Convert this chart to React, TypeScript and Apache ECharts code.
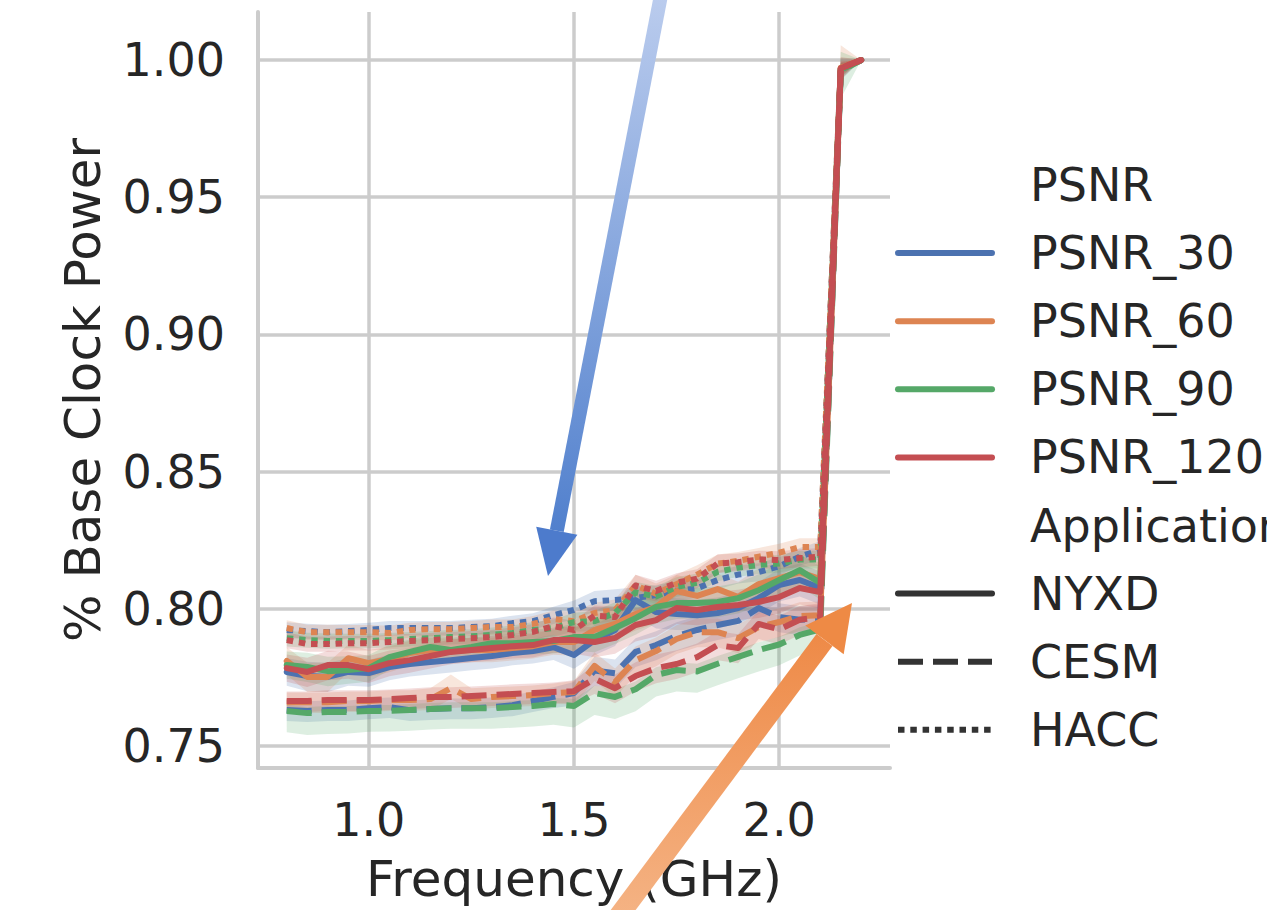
import React, { useEffect, useRef } from 'react';
import * as echarts from 'echarts';

const FONT = 'DejaVu Sans';
const TEXT = '#262626';
const GRID = '#cccccc';

const freqs = [0.80, 0.85, 0.90, 0.95, 1.00, 1.05, 1.10, 1.15, 1.20, 1.25, 1.30, 1.35, 1.40, 1.45, 1.50, 1.55, 1.60, 1.65, 1.70, 1.75, 1.80, 1.85, 1.90, 1.95, 2.00, 2.05, 2.10, 2.15, 2.20];

const psnrLevels = ['PSNR_30', 'PSNR_60', 'PSNR_90', 'PSNR_120'];
const applications = ['NYXD', 'CESM', 'HACC'];
const psnrColors = ['#4C72B0', '#DD8452', '#55A868', '#C44E52'];

// NYXD (solid)
const nyxd30 = [0.7770, 0.7755, 0.7752, 0.7770, 0.7766, 0.7788, 0.7799, 0.7806, 0.7813, 0.7821, 0.7828, 0.7839, 0.7846, 0.7860, 0.7832, 0.7886, 0.7923, 0.8032, 0.7988, 0.7981, 0.7977, 0.7985, 0.8003, 0.8039, 0.8087, 0.8105, 0.8076, 0.9968, 1.0000];
const nyxd60 = [0.7810, 0.7752, 0.7752, 0.7820, 0.7802, 0.7817, 0.7839, 0.7850, 0.7846, 0.7850, 0.7850, 0.7857, 0.7864, 0.7879, 0.7879, 0.7923, 0.7945, 0.7981, 0.8007, 0.8065, 0.8047, 0.8072, 0.8043, 0.8090, 0.8112, 0.8134, 0.8108, 0.9972, 1.0000];
const nyxd90 = [0.7795, 0.7788, 0.7773, 0.7777, 0.7784, 0.7824, 0.7843, 0.7861, 0.7850, 0.7861, 0.7875, 0.7875, 0.7879, 0.7883, 0.7897, 0.7897, 0.7930, 0.7966, 0.8007, 0.8021, 0.8021, 0.8025, 0.8039, 0.8068, 0.8105, 0.8141, 0.8094, 0.9965, 1.0000];
const nyxd120 = [0.7784, 0.7770, 0.7795, 0.7795, 0.7780, 0.7802, 0.7813, 0.7828, 0.7843, 0.7850, 0.7857, 0.7864, 0.7868, 0.7886, 0.7886, 0.7879, 0.7894, 0.7941, 0.7959, 0.8003, 0.7996, 0.8007, 0.8014, 0.8025, 0.8043, 0.8076, 0.8061, 0.9970, 1.0000];

// CESM (dashed)
const cesm30 = [0.7631, 0.7628, 0.7631, 0.7631, 0.7638, 0.7642, 0.7631, 0.7635, 0.7638, 0.7638, 0.7642, 0.7649, 0.7664, 0.7679, 0.7693, 0.7775, 0.7765, 0.7843, 0.7868, 0.7901, 0.7923, 0.7941, 0.7956, 0.8003, 0.7970, 0.7960, 0.7963, 0.9966, 1.0000];
const cesm60 = [0.7660, 0.7660, 0.7660, 0.7664, 0.7664, 0.7668, 0.7668, 0.7671, 0.7711, 0.7671, 0.7679, 0.7682, 0.7686, 0.7693, 0.7697, 0.7792, 0.7733, 0.7813, 0.7846, 0.7890, 0.7915, 0.7915, 0.7893, 0.7934, 0.7952, 0.7974, 0.7977, 0.9969, 1.0000];
const cesm90 = [0.7628, 0.7620, 0.7624, 0.7624, 0.7628, 0.7628, 0.7631, 0.7635, 0.7638, 0.7638, 0.7638, 0.7642, 0.7646, 0.7653, 0.7646, 0.7693, 0.7679, 0.7707, 0.7759, 0.7777, 0.7772, 0.7800, 0.7825, 0.7850, 0.7870, 0.7905, 0.7925, 0.9960, 1.0000];
const cesm120 = [0.7664, 0.7664, 0.7668, 0.7668, 0.7668, 0.7671, 0.7675, 0.7679, 0.7679, 0.7682, 0.7686, 0.7690, 0.7693, 0.7697, 0.7700, 0.7745, 0.7711, 0.7755, 0.7784, 0.7799, 0.7824, 0.7868, 0.7857, 0.7945, 0.7925, 0.7960, 0.7970, 0.9971, 1.0000];

// HACC (dotted)
const hacc30 = [0.7923, 0.7919, 0.7915, 0.7919, 0.7923, 0.7930, 0.7930, 0.7930, 0.7930, 0.7934, 0.7937, 0.7948, 0.7955, 0.7977, 0.7996, 0.8028, 0.8032, 0.8040, 0.8050, 0.8065, 0.8075, 0.8105, 0.8125, 0.8134, 0.8155, 0.8190, 0.8214, 0.9968, 1.0000];
const hacc60 = [0.7930, 0.7915, 0.7915, 0.7915, 0.7915, 0.7912, 0.7923, 0.7926, 0.7926, 0.7930, 0.7934, 0.7934, 0.7945, 0.7963, 0.7955, 0.7985, 0.7995, 0.8085, 0.8055, 0.8090, 0.8125, 0.8165, 0.8175, 0.8190, 0.8205, 0.8225, 0.8225, 0.9972, 1.0000];
const hacc90 = [0.7893, 0.7886, 0.7883, 0.7883, 0.7883, 0.7886, 0.7890, 0.7893, 0.7897, 0.7900, 0.7905, 0.7912, 0.7923, 0.7930, 0.7952, 0.7955, 0.7985, 0.8060, 0.8045, 0.8080, 0.8095, 0.8135, 0.8150, 0.8160, 0.8165, 0.8180, 0.8180, 0.9966, 1.0000];
const hacc120 = [0.7886, 0.7872, 0.7872, 0.7875, 0.7875, 0.7879, 0.7883, 0.7886, 0.7890, 0.7893, 0.7897, 0.7905, 0.7916, 0.7937, 0.7923, 0.7975, 0.7970, 0.8085, 0.8065, 0.8095, 0.8110, 0.8165, 0.8170, 0.8180, 0.8178, 0.8185, 0.8190, 0.9970, 1.0000];

// confidence band half-widths (below / above the line)
const ciNyxdLo = [0.0050, 0.0055, 0.0055, 0.0050, 0.0050, 0.0048, 0.0046, 0.0045, 0.0045, 0.0045, 0.0045, 0.0045, 0.0045, 0.0046, 0.0050, 0.0055, 0.0058, 0.0060, 0.0060, 0.0058, 0.0056, 0.0056, 0.0056, 0.0058, 0.0060, 0.0060, 0.0060, 0.0030, 0];
const ciNyxdHi = [0.0050, 0.0052, 0.0052, 0.0050, 0.0048, 0.0046, 0.0045, 0.0045, 0.0045, 0.0045, 0.0045, 0.0045, 0.0045, 0.0046, 0.0050, 0.0055, 0.0058, 0.0060, 0.0060, 0.0058, 0.0056, 0.0056, 0.0056, 0.0058, 0.0060, 0.0060, 0.0060, 0.0025, 0];
const ciHaccLo = [0.0030, 0.0028, 0.0028, 0.0027, 0.0027, 0.0027, 0.0027, 0.0027, 0.0027, 0.0027, 0.0028, 0.0028, 0.0030, 0.0032, 0.0035, 0.0038, 0.0040, 0.0040, 0.0038, 0.0036, 0.0035, 0.0034, 0.0033, 0.0033, 0.0033, 0.0033, 0.0033, 0.0020, 0];
const ciHaccHi = [0.0028, 0.0027, 0.0027, 0.0026, 0.0026, 0.0026, 0.0026, 0.0026, 0.0026, 0.0026, 0.0027, 0.0027, 0.0029, 0.0031, 0.0034, 0.0037, 0.0039, 0.0039, 0.0037, 0.0035, 0.0034, 0.0033, 0.0032, 0.0032, 0.0032, 0.0032, 0.0032, 0.0020, 0];
const ciCesmLo = [0.0040, 0.0040, 0.0040, 0.0040, 0.0040, 0.0040, 0.0040, 0.0040, 0.0040, 0.0040, 0.0040, 0.0040, 0.0040, 0.0040, 0.0045, 0.0055, 0.0055, 0.0055, 0.0055, 0.0055, 0.0055, 0.0055, 0.0055, 0.0055, 0.0055, 0.0055, 0.0055, 0.0040, 0];
const ciCesmHi = [0.0035, 0.0035, 0.0035, 0.0035, 0.0035, 0.0035, 0.0035, 0.0035, 0.0035, 0.0035, 0.0035, 0.0035, 0.0035, 0.0035, 0.0040, 0.0050, 0.0050, 0.0050, 0.0050, 0.0050, 0.0050, 0.0050, 0.0050, 0.0050, 0.0050, 0.0050, 0.0050, 0.0040, 0];
const ciCesm60Hi = [0.0035, 0.0035, 0.0035, 0.0035, 0.0035, 0.0035, 0.0035, 0.0040, 0.0050, 0.0040, 0.0035, 0.0035, 0.0035, 0.0035, 0.0040, 0.0050, 0.0050, 0.0050, 0.0050, 0.0050, 0.0050, 0.0050, 0.0050, 0.0050, 0.0050, 0.0050, 0.0050, 0.0085, 0];
const ciCesm90Lo = [0.0078, 0.0080, 0.0080, 0.0078, 0.0076, 0.0075, 0.0075, 0.0075, 0.0075, 0.0075, 0.0075, 0.0075, 0.0075, 0.0075, 0.0078, 0.0080, 0.0080, 0.0080, 0.0078, 0.0078, 0.0078, 0.0078, 0.0078, 0.0078, 0.0076, 0.0075, 0.0070, 0.0100, 0];
const ciCesm90Hi = [0.0022, 0.0022, 0.0022, 0.0022, 0.0022, 0.0022, 0.0022, 0.0022, 0.0022, 0.0022, 0.0022, 0.0022, 0.0022, 0.0022, 0.0025, 0.0028, 0.0028, 0.0028, 0.0028, 0.0028, 0.0028, 0.0028, 0.0028, 0.0028, 0.0028, 0.0028, 0.0028, 0.0070, 0];

// series in seaborn drawing order: hue outer, style inner
const seriesDefs = [
  { psnr: 0, app: 0, vals: nyxd30, lo: ciNyxdLo, hi: ciNyxdHi },
  { psnr: 0, app: 1, vals: cesm30, lo: ciCesmLo, hi: ciCesmHi },
  { psnr: 0, app: 2, vals: hacc30, lo: ciHaccLo, hi: ciHaccHi },
  { psnr: 1, app: 0, vals: nyxd60, lo: ciNyxdLo, hi: ciNyxdHi },
  { psnr: 1, app: 1, vals: cesm60, lo: ciCesmLo, hi: ciCesm60Hi },
  { psnr: 1, app: 2, vals: hacc60, lo: ciHaccLo, hi: ciHaccHi },
  { psnr: 2, app: 0, vals: nyxd90, lo: ciNyxdLo, hi: ciNyxdHi },
  { psnr: 2, app: 1, vals: cesm90, lo: ciCesm90Lo, hi: ciCesm90Hi },
  { psnr: 2, app: 2, vals: hacc90, lo: ciHaccLo, hi: ciHaccHi },
  { psnr: 3, app: 0, vals: nyxd120, lo: ciNyxdLo, hi: ciNyxdHi },
  { psnr: 3, app: 1, vals: cesm120, lo: ciCesmLo, hi: ciCesmHi },
  { psnr: 3, app: 2, vals: hacc120, lo: ciHaccLo, hi: ciHaccHi },
];

const DASHES: any[] = ['solid', [25, 10], [6.5, 5.8]];
const CAPS = ['round', 'butt', 'butt'];
const LW = 6;

function rgba(hex: string, a: number) {
  const n = parseInt(hex.slice(1), 16);
  return `rgba(${(n >> 16) & 255},${(n >> 8) & 255},${n & 255},${a})`;
}

function isMultiple(v: number, step: number) {
  const k = Math.round(v / step);
  return Math.abs(v - k * step) < 1e-6;
}

export default function App() {
  const ref = useRef<HTMLDivElement>(null);

  useEffect(() => {
    if (!ref.current) return;
    const chart = echarts.init(ref.current, null, { renderer: 'svg' });

    const bands = seriesDefs.map((s) => ({
      type: 'custom',
      z: 1,
      silent: true,
      clip: false,
      data: [[freqs[0], s.vals[0]]],
      renderItem: (_p: any, api: any) => {
        const pts: number[][] = [];
        for (let i = 0; i < freqs.length; i++) pts.push(api.coord([freqs[i], s.vals[i] + s.hi[i]]));
        for (let i = freqs.length - 1; i >= 0; i--) pts.push(api.coord([freqs[i], s.vals[i] - s.lo[i]]));
        return {
          type: 'polygon',
          shape: { points: pts },
          style: { fill: rgba(psnrColors[s.psnr], 0.2), stroke: 'none' },
        };
      },
    }));

    const lines = seriesDefs.map((s) => ({
      type: 'line',
      name: `${psnrLevels[s.psnr]} ${applications[s.app]}`,
      z: 2,
      silent: true,
      symbol: 'none',
      showSymbol: false,
      emphasis: { disabled: true },
      data: freqs.map((f, i) => [f, s.vals[i]]),
      itemStyle: { color: psnrColors[s.psnr] },
      lineStyle: {
        color: psnrColors[s.psnr],
        width: LW,
        type: DASHES[s.app],
        cap: CAPS[s.app],
        join: 'round',
      },
    }));

    // legend (drawn as graphic)
    const legendX1 = 898;
    const legendX2 = 992;
    const legendTextX = 1030;
    const legendTop = 185;
    const legendStep = 68.1;
    const legendItems: any[] = [];
    const rows: { label: string; color?: string; app?: number }[] = [
      { label: 'PSNR' },
      ...psnrLevels.map((l, i) => ({ label: l, color: psnrColors[i], app: 0 })),
      { label: 'Application' },
      ...applications.map((a, i) => ({ label: a, color: '#333333', app: i })),
    ];
    rows.forEach((r, k) => {
      const y = legendTop + k * legendStep;
      if (r.color) {
        legendItems.push({
          type: 'line',
          shape: { x1: legendX1, y1: y, x2: legendX2, y2: y },
          style: {
            stroke: r.color,
            lineWidth: LW,
            lineDash: r.app === 0 ? null : DASHES[r.app as number],
            lineCap: CAPS[r.app as number],
          },
        });
      }
      legendItems.push({
        type: 'text',
        x: legendTextX,
        y: y,
        style: {
          text: r.label,
          fill: TEXT,
          fontSize: 46,
          fontFamily: FONT,
          align: 'left',
          verticalAlign: 'middle',
          textAlign: 'left',
          textVerticalAlign: 'middle',
        },
      });
    });

    const arrows: any[] = [
      {
        type: 'polygon',
        z: 100,
        shape: { points: [[668.9, -8.7], [655.1, -11.3], [549.9, 529.5], [563.7, 532.1]] },
        style: {
          fill: new echarts.graphic.LinearGradient(0, 0, 0, 1, [
            { offset: 0, color: '#bccdee' },
            { offset: 1, color: '#5180cd' },
          ]),
        },
      },
      {
        type: 'polygon',
        z: 100,
        shape: { points: [[577.4, 534.8], [536.2, 526.8], [548, 576]] },
        style: { fill: '#4d7bcc' },
      },
      {
        type: 'polygon',
        z: 100,
        shape: { points: [[620, 931], [604, 919], [816.5, 633.9], [832.5, 645.9]] },
        style: {
          fill: new echarts.graphic.LinearGradient(0, 1, 0, 0, [
            { offset: 0, color: '#f5b587' },
            { offset: 1, color: '#ee8a47' },
          ]),
        },
      },
      {
        type: 'polygon',
        z: 100,
        shape: { points: [[843.7, 654.2], [805.3, 625.6], [852, 603]] },
        style: { fill: '#ee8a45' },
      },
    ];

    const option: any = {
      animation: false,
      textStyle: { fontFamily: FONT },
      grid: { left: 258, right: 377, top: 12, bottom: 142, containLabel: false },
      xAxis: {
        type: 'value',
        min: 0.73,
        max: 2.27,
        minInterval: 0.5,
        maxInterval: 0.5,
        name: 'Frequency (GHz)',
        nameLocation: 'middle',
        nameGap: 86,
        nameTextStyle: { fontSize: 50, color: TEXT, fontFamily: FONT },
        axisLine: { show: true, lineStyle: { color: GRID, width: 4 } },
        axisTick: { show: false },
        axisLabel: {
          show: true,
          fontSize: 46,
          color: TEXT,
          fontFamily: FONT,
          margin: 29,
          showMinLabel: false,
          showMaxLabel: false,
          formatter: (v: number) => (isMultiple(v, 0.5) ? v.toFixed(1) : ''),
        },
        splitLine: { show: true, showMinLine: false, showMaxLine: false, lineStyle: { color: GRID, width: 3.5 } },
      },
      yAxis: {
        type: 'value',
        min: 0.742,
        max: 1.0175,
        minInterval: 0.05,
        maxInterval: 0.05,
        name: '% Base Clock Power',
        nameLocation: 'middle',
        nameRotate: 90,
        nameGap: 150,
        nameTextStyle: { fontSize: 50, color: TEXT, fontFamily: FONT },
        axisLine: { show: true, lineStyle: { color: GRID, width: 4 } },
        axisTick: { show: false },
        axisLabel: {
          show: true,
          fontSize: 46,
          color: TEXT,
          fontFamily: FONT,
          margin: 33,
          showMinLabel: false,
          showMaxLabel: false,
          formatter: (v: number) => (isMultiple(v, 0.05) ? v.toFixed(2) : ''),
        },
        splitLine: { show: true, showMinLine: false, showMaxLine: false, lineStyle: { color: GRID, width: 3.5 } },
      },
      series: [...bands, ...lines],
      graphic: [...legendItems, ...arrows],
    };

    chart.setOption(option);
    return () => chart.dispose();
  }, []);

  return (
    <div
      ref={ref}
      style={{ position: 'fixed', left: 0, top: 0, width: 1267, height: 910, background: '#ffffff' }}
    />
  );
}
